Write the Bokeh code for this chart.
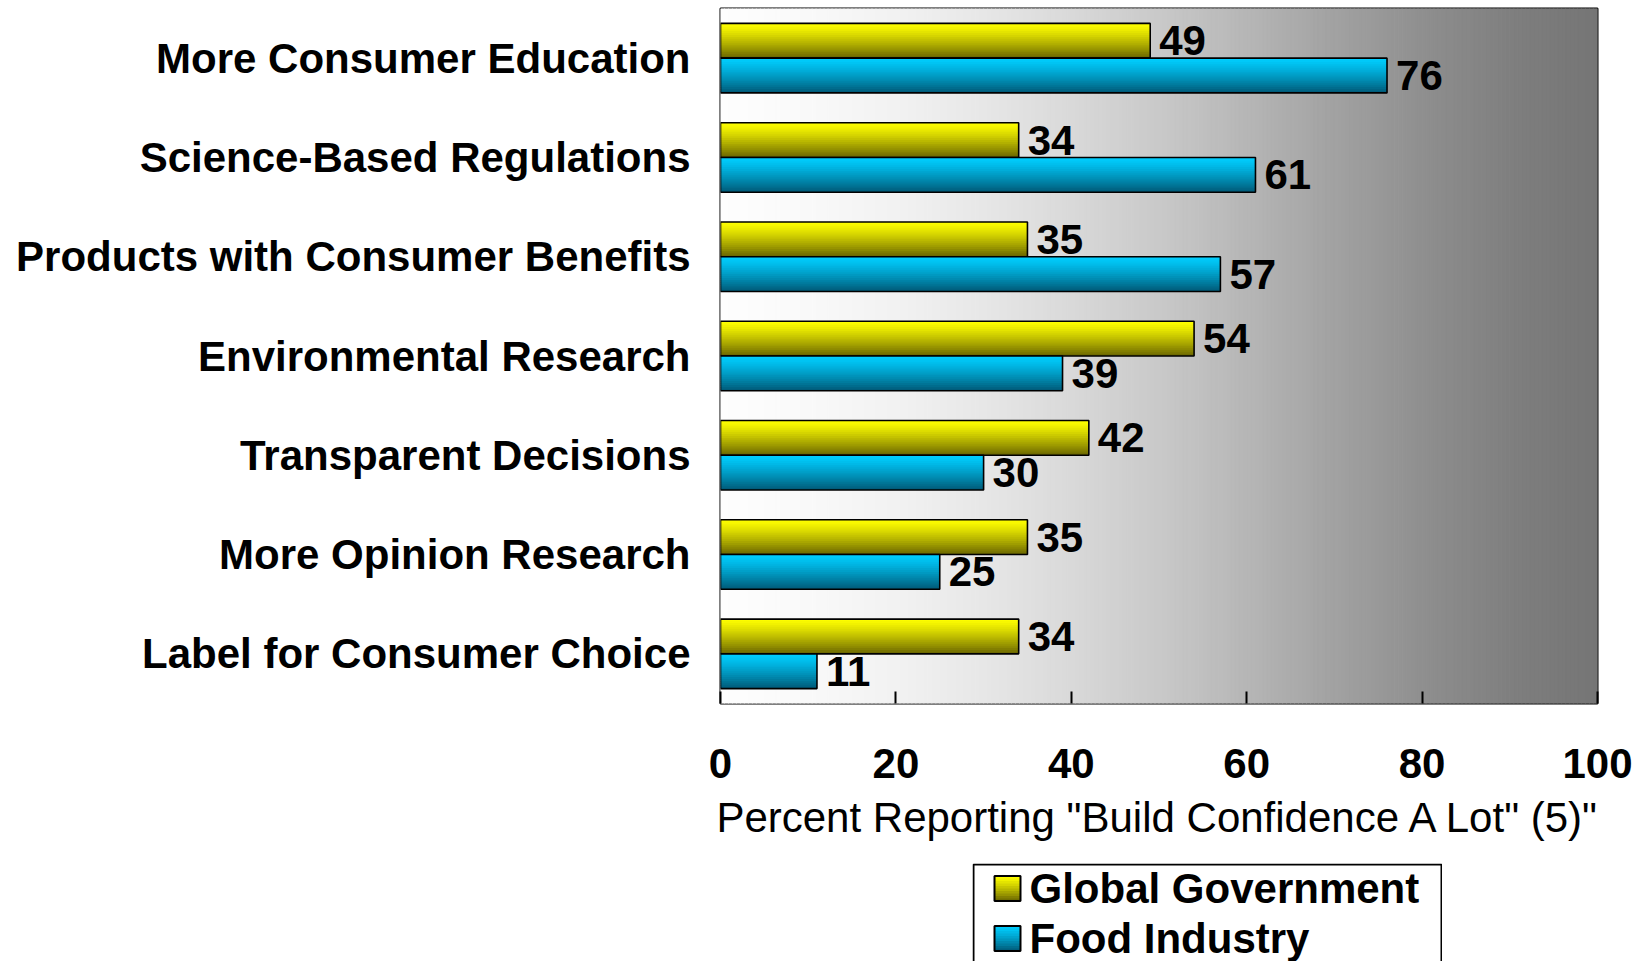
import numpy as np
from bokeh.plotting import figure
from bokeh.models import Range1d, FixedTicker, Spacer
from bokeh.layouts import column, row
from bokeh.embed import file_html
from bokeh.resources import INLINE
from bokeh.core.properties import value

# ---------------- data ----------------
categories = [
    "More Consumer Education",
    "Science-Based Regulations",
    "Products with Consumer Benefits",
    "Environmental Research",
    "Transparent Decisions",
    "More Opinion Research",
    "Label for Consumer Choice",
]
government = [49, 34, 35, 54, 42, 35, 34]
food_industry = [76, 61, 57, 39, 30, 25, 11]
series_names = ["Global Government", "Food Industry"]
x_ticks = [0, 20, 40, 60, 80, 100]
x_label = 'Percent Reporting "Build Confidence A Lot" (5)"'

FONT_NAME = "Liberation Sans"
FONT = value(FONT_NAME)
n = len(categories)
ypos = [n - 1 - i for i in range(n)]  # first category on top

yellow_top, yellow_bot = (255, 255, 0), (104, 100, 0)
cyan_top, cyan_bot = (0, 206, 255), (0, 88, 118)
K = 18


def hexcol(rgb):
    return "#%02x%02x%02x" % rgb


def grad_color(c_top, c_bot, t):
    t = t ** 1.25
    return hexcol(tuple(int(round(a + (b - a) * t)) for a, b in zip(c_top, c_bot)))


p = figure(width=1642, height=863, output_backend="svg", toolbar_location=None,
           x_range=Range1d(0, 100), y_range=Range1d(-0.5, n - 0.5),
           min_border_left=720, min_border_right=45, min_border_top=8,
           min_border_bottom=160)
p.background_fill_color = "white"
p.border_fill_color = "white"
p.xgrid.visible = False
p.ygrid.visible = False
p.outline_line_color = "black"
p.outline_line_width = 2

# ---------------- background gradient (horizontal) ----------------
NB = 220
xs = np.linspace(p.x_range.start, p.x_range.end, NB + 1)
stop_t = [0.0, 0.1, 0.2, 0.3, 0.4, 0.5, 0.6, 0.7, 0.8, 0.9, 1.0]
stop_v = [254, 249, 242, 231, 217, 201, 182, 162, 143, 127, 117]
mid_t = ((xs[:-1] + xs[1:]) / 2 - xs[0]) / (xs[-1] - xs[0])
g = np.round(np.interp(mid_t, stop_t, stop_v)).astype(int)
bg_cols = ["#%02x%02x%02x" % (v, v, v) for v in g]
p.quad(left=xs[:-1], right=xs[1:], bottom=p.y_range.start, top=p.y_range.end,
       fill_color=bg_cols, line_color=bg_cols, line_width=1)

# ---------------- gradient bars ----------------
BAR_H = 0.35


def grad_bars(vals, top_edge, c_top, c_bot):
    h = BAR_H / K
    for j in range(K):
        col = grad_color(c_top, c_bot, (j + 0.5) / K)
        hh = h * (1.6 if j < K - 1 else 1.0)
        yc = [y + top_edge - j * h - hh / 2 for y in ypos]
        p.hbar(y=yc, left=0, right=vals, height=hh, fill_color=col, line_color=None)
    yc = [y + top_edge - BAR_H / 2 for y in ypos]
    p.hbar(y=yc, left=0, right=vals, height=BAR_H,
           fill_color=None, line_color="black", line_width=1.6)
    p.text(x=vals, y=yc, text=[str(v) for v in vals], x_offset=9,
           text_align="left", text_baseline="middle", text_font=FONT,
           text_font_style="bold", text_font_size="42px", text_color="black")


grad_bars(government, BAR_H, yellow_top, yellow_bot)
grad_bars(food_industry, 0.0, cyan_top, cyan_bot)

# ---------------- axes ----------------
xa = p.xaxis[0]
xa.ticker = FixedTicker(ticks=x_ticks)
xa.axis_line_color = None
xa.major_tick_in = 12
xa.major_tick_out = 0
xa.major_tick_line_width = 2
xa.minor_tick_line_color = None
xa.major_label_standoff = 45
xa.major_label_text_font = FONT_NAME
xa.major_label_text_font_style = "bold"
xa.major_label_text_font_size = "42px"
xa.major_label_text_color = "black"
xa.axis_label = x_label
xa.axis_label_text_font = FONT_NAME
xa.axis_label_text_font_style = "normal"
xa.axis_label_text_font_size = "42px"
xa.axis_label_text_color = "black"
xa.axis_label_standoff = 13

ya = p.yaxis[0]
ya.ticker = FixedTicker(ticks=ypos)
ya.major_label_overrides = {y: c for y, c in zip(ypos, categories)}
ya.axis_line_color = None
ya.major_tick_in = 0
ya.major_tick_out = 0
ya.minor_tick_line_color = None
ya.major_label_standoff = 30
ya.major_label_text_font = FONT_NAME
ya.major_label_text_font_style = "bold"
ya.major_label_text_font_size = "42px"
ya.major_label_text_color = "black"

# ---------------- legend (separate panel below the chart) ----------------
LW, LH = 470, 98
lg = figure(width=LW, height=LH, output_backend="svg", toolbar_location=None,
            x_range=Range1d(0, LW), y_range=Range1d(LH, 0),
            x_axis_location=None, y_axis_location=None,
            min_border_left=0, min_border_right=0, min_border_top=0,
            min_border_bottom=0)
lg.xgrid.visible = False
lg.ygrid.visible = False
lg.background_fill_color = "white"
lg.border_fill_color = "white"
lg.outline_line_color = None
# box border: left, top and right sides (the bottom runs past the page edge)
lg.multi_line(xs=[[1, 1, LW - 1, LW - 1]], ys=[[LH, 1, 1, LH]],
              line_color="black", line_width=2)

sw_left, sw_w, sw_h, row_h, first_c = 22, 26, 25, 50, 25
lg_colors = [(yellow_top, yellow_bot), (cyan_top, cyan_bot)]
for i, name in enumerate(series_names):
    cy = first_c + i * row_h
    top = cy - sw_h / 2
    ks = 10
    for j in range(ks):
        col = grad_color(lg_colors[i][0], lg_colors[i][1], (j + 0.5) / ks)
        lg.quad(left=sw_left, right=sw_left + sw_w,
                top=top + j * sw_h / ks,
                bottom=top + (j + 1.6) * sw_h / ks if j < ks - 1 else top + sw_h,
                fill_color=col, line_color=None)
    lg.quad(left=sw_left, right=sw_left + sw_w, top=top, bottom=top + sw_h,
            fill_color=None, line_color="black", line_width=2)
    lg.text(x=[sw_left + sw_w + 9], y=[cy], text=[name], text_align="left",
            text_baseline="middle", text_font=FONT, text_font_style="bold",
            text_font_size="42px", text_color="black")

layout = column(p, row(Spacer(width=972, height=LH), lg, spacing=0), spacing=0)

open("out.html", "w").write(file_html(layout, INLINE))
